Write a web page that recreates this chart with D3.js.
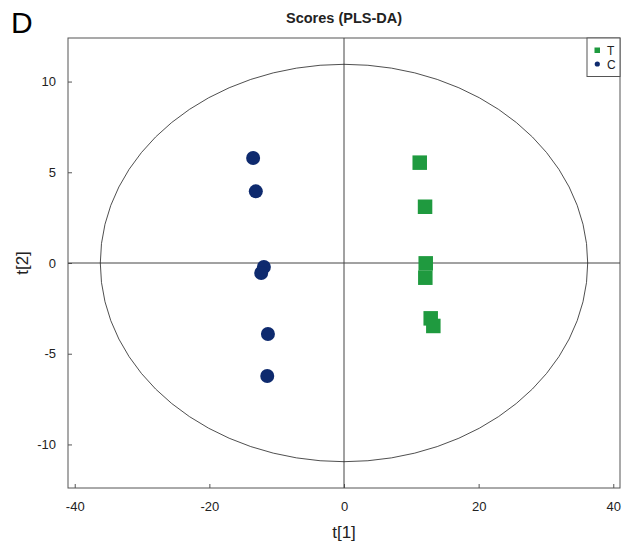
<!DOCTYPE html>
<html lang="en">
<head>
<meta charset="UTF-8">
<title>Scores (PLS-DA)</title>
<script src="https://d3js.org/d3.v7.min.js"></script>
<style>
  body { margin: 0; background: #fff; font-family: "Liberation Sans", Arial, sans-serif; }
  .tick text { font-size: 13px; fill: #222; }
</style>
</head>
<body>
<svg width="633" height="549"></svg>
<script>
// group T (squares) and group C (circles), scores t[1], t[2]
const groupT = [
  [11.25, 5.53], [12.04, 3.10], [12.14, -0.02],
  [12.08, -0.81], [12.88, -3.05], [13.27, -3.47]
];
const groupC = [
  [-13.5, 5.79], [-13.1, 3.95], [-11.9, -0.22],
  [-12.3, -0.55], [-11.3, -3.91], [-11.4, -6.23]
];
const xTicks = [-40, -20, 0, 20, 40];
const yTicks = [-10, -5, 0, 5, 10];
const ellipseRadii = [36.2, 10.95]; // Hotelling T2 ellipse

const svg = d3.select("svg");
const plotL = 68, plotR = 620, plotT = 38, plotB = 488;

const x = d3.scaleLinear().domain([-41, 41]).range([plotL, plotR]);
const y = d3.scaleLinear().domain([-12.4, 12.4]).range([plotB, plotT]);

// frame
svg.append("rect")
  .attr("x", plotL).attr("y", plotT)
  .attr("width", plotR - plotL).attr("height", plotB - plotT)
  .attr("fill", "none").attr("stroke", "#555").attr("stroke-width", 1);

// axes, ticks pointing inward; plain hyphen for negatives
const fmt = d => String(d);
const xAxis = svg.append("g")
  .attr("transform", `translate(0,${plotB})`)
  .call(d3.axisBottom(x).tickValues(xTicks).tickFormat(fmt).tickSize(-4).tickPadding(14));
const yAxis = svg.append("g")
  .attr("transform", `translate(${plotL},0)`)
  .call(d3.axisLeft(y).tickValues(yTicks).tickFormat(fmt).tickSize(-4).tickPadding(12));
[xAxis, yAxis].forEach(g => {
  g.select(".domain").remove();
  g.selectAll(".tick line").attr("stroke", "#555");
});

// cross lines
svg.append("line")
  .attr("x1", x(0)).attr("x2", x(0)).attr("y1", plotT).attr("y2", plotB)
  .attr("stroke", "#444").attr("stroke-width", 1);
svg.append("line")
  .attr("x1", plotL).attr("x2", plotR).attr("y1", y(0)).attr("y2", y(0))
  .attr("stroke", "#444").attr("stroke-width", 1);

// ellipse
svg.append("ellipse")
  .attr("cx", x(0)).attr("cy", y(0))
  .attr("rx", x(ellipseRadii[0]) - x(0))
  .attr("ry", y(0) - y(ellipseRadii[1]))
  .attr("fill", "none").attr("stroke", "#222").attr("stroke-width", 0.8);

// points
const sq = 14.5;
svg.selectAll(".pt-t")
  .data(groupT)
  .enter().append("rect")
    .attr("class", "pt-t")
    .attr("x", d => x(d[0]) - sq / 2)
    .attr("y", d => y(d[1]) - sq / 2)
    .attr("width", sq).attr("height", sq)
    .attr("fill", "#1f9a3f");

svg.selectAll(".pt-c")
  .data(groupC)
  .enter().append("circle")
    .attr("class", "pt-c")
    .attr("cx", d => x(d[0]))
    .attr("cy", d => y(d[1]))
    .attr("r", 7)
    .attr("fill", "#0e2a6e");

// legend
const lg = svg.append("g");
lg.append("rect")
  .attr("x", 587).attr("y", plotT).attr("width", plotR - 587).attr("height", 38.5)
  .attr("fill", "#fff").attr("stroke", "#555").attr("stroke-width", 1);
lg.append("rect").attr("x", 594.5).attr("y", 47.5).attr("width", 5.5).attr("height", 5.5).attr("fill", "#1f9a3f");
lg.append("circle").attr("cx", 597.3).attr("cy", 64).attr("r", 2.6).attr("fill", "#0e2a6e");
lg.append("text").attr("x", 607).attr("y", 54.5).attr("font-size", 12).attr("fill", "#222").text("T");
lg.append("text").attr("x", 607).attr("y", 68.5).attr("font-size", 12).attr("fill", "#222").text("C");

// titles
svg.append("text")
  .attr("x", x(0)).attr("y", 23)
  .attr("text-anchor", "middle")
  .attr("font-size", 14.5).attr("font-weight", "bold").attr("fill", "#222")
  .text("Scores (PLS-DA)");
svg.append("text")
  .attr("x", 11).attr("y", 33)
  .attr("font-size", 30).attr("fill", "#000")
  .text("D");
svg.append("text")
  .attr("x", x(0)).attr("y", 538)
  .attr("text-anchor", "middle")
  .attr("font-size", 17).attr("fill", "#222")
  .text("t[1]");
svg.append("text")
  .attr("transform", `translate(28,${y(0)}) rotate(-90)`)
  .attr("text-anchor", "middle")
  .attr("font-size", 17).attr("fill", "#222")
  .text("t[2]");
</script>
</body>
</html>
